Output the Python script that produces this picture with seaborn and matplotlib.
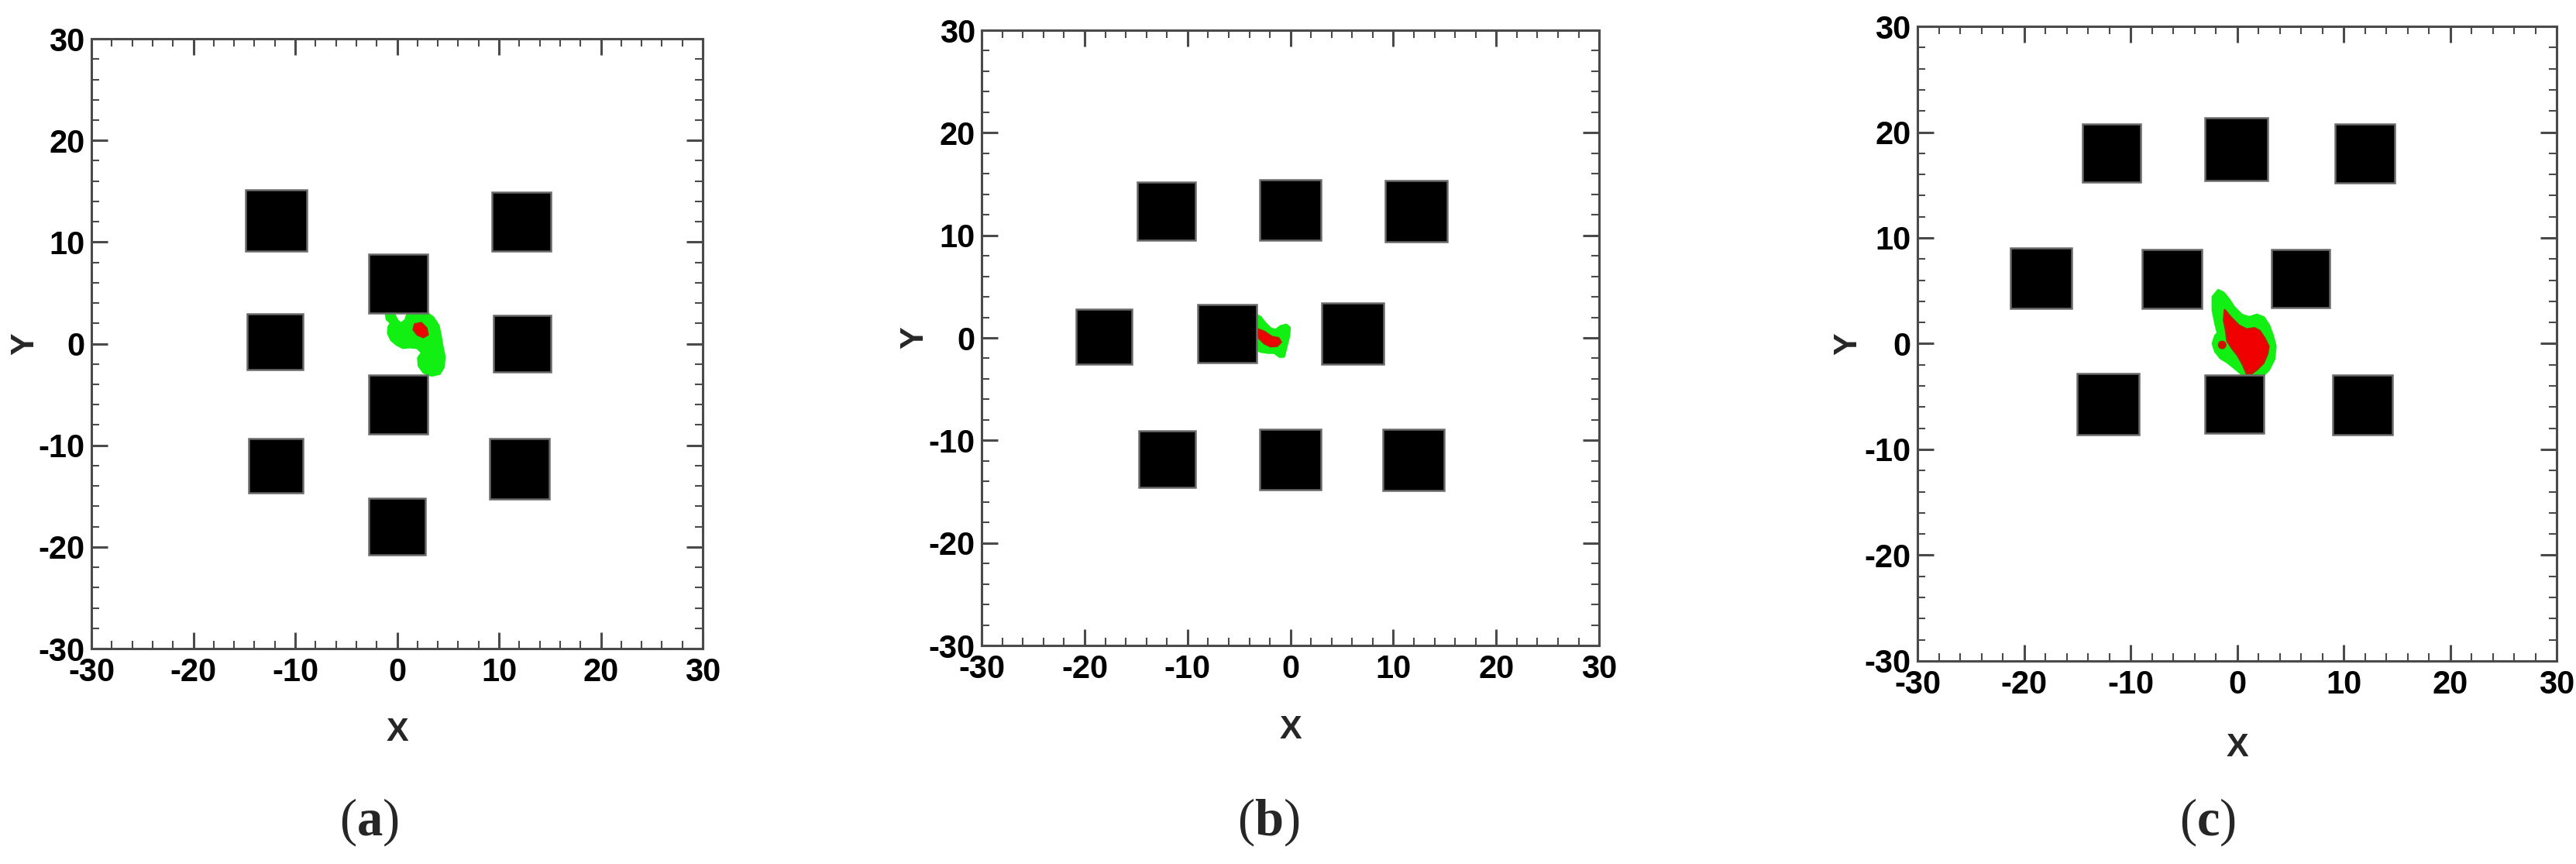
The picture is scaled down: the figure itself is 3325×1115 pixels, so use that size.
import numpy as np
import pandas as pd
import seaborn as sns
import matplotlib
matplotlib.use('Agg')
import matplotlib.pyplot as plt
from matplotlib.patches import Rectangle, Circle
from matplotlib.ticker import MultipleLocator

# obstacle blocks (centre x, centre y, side)
blocks_a_x = [-11.9, 12.2, 0.1, -12.0, 12.3, 0.1, -11.9, 12.0, 0.0]
blocks_a_y = [12.1, 12.0, 5.9, 0.2, 0.0, -6.0, -12.0, -12.3, -18.0]
blocks_a_s = [6.0, 5.8, 5.8, 5.5, 5.6, 5.8, 5.3, 5.9, 5.6]

blocks_b_x = [-12.05, 0.0, 12.2, -18.1, -6.15, 6.05, -11.95, 0.0, 11.95]
blocks_b_y = [12.35, 12.45, 12.35, 0.1, 0.4, 0.4, -11.85, -11.85, -11.9]
blocks_b_s = [5.7, 5.9, 6.0, 5.4, 5.7, 6.0, 5.5, 5.9, 5.9]

blocks_c_x = [-11.8, -0.05, 12.0, -18.4, -6.15, 5.95, -12.1, -0.25, 11.8]
blocks_c_y = [18.0, 18.4, 18.0, 6.2, 6.1, 6.15, -5.7, -5.7, -5.8]
blocks_c_s = [5.5, 5.9, 5.6, 5.7, 5.6, 5.5, 5.8, 5.5, 5.6]

# plume outlines: outer (green) and core (red)
green_a_x = [-1.05, -0.29, -0.03, 0.35, 0.85, 1.06, 2.88, 3.51, 4.02, 4.23, 4.40, 4.61, 4.53, 4.15,
             3.39, 2.63, 2.17, 2.12, 2.50, 1.99, 1.23, 0.60, -0.03, -0.54, -0.84, -0.79, -0.54, -0.97]
green_a_y = [2.93, 2.80, 2.29, 1.91, 2.29, 2.93, 3.00, 2.55, 1.78, 0.77, -0.25, -1.27, -2.28, -2.92,
             -3.09, -2.79, -2.16, -1.39, -0.88, -0.37, -0.30, -0.37, -0.05, 0.39, 1.02, 1.65, 2.04, 2.42]
red_a_x = [1.74, 2.37, 2.88, 3.01, 2.58, 1.99, 1.61]
red_a_y = [1.91, 2.04, 1.53, 0.89, 0.64, 0.89, 1.40]

green_b_x = [-3.43, -2.93, -2.55, -1.92, -1.42, -0.92, -0.42, -0.12, -0.17, -0.42, -0.67, -1.05,
             -1.55, -2.17, -2.93, -3.43, -3.56, -3.48]
green_b_y = [2.24, 1.99, 1.48, 0.85, 0.73, 1.10, 1.23, 0.98, 0.23, -0.79, -1.79, -1.79,
             -1.41, -1.41, -1.29, -0.91, -0.03, 1.23]
red_b_x = [-3.18, -2.55, -1.80, -1.17, -0.92, -1.30, -1.92, -2.55, -3.05, -3.30]
red_b_y = [0.85, 0.60, 0.10, -0.03, -0.41, -0.79, -0.83, -0.53, -0.03, 0.48]

green_c_x = [-1.77, -1.29, -0.80, -0.32, 0.41, 1.13, 1.86, 2.47, 2.95, 3.31, 3.56, 3.44, 2.95, 2.35,
             1.62, 0.89, 0.41, -0.32, -0.92, -1.53, -2.01, -2.25, -2.01, -1.77, -2.01, -2.25, -2.25]
green_c_y = [5.01, 4.77, 4.16, 3.42, 2.69, 2.45, 2.69, 2.45, 1.72, 0.74, -0.24, -1.46, -2.44, -3.05,
             -3.29, -3.17, -2.81, -2.19, -1.71, -1.34, -0.73, 0.01, 0.74, 0.98, 1.96, 3.18, 4.41]
red_c_x = [-1.16, -0.56, 0.17, 0.89, 1.62, 2.11, 2.59, 2.95, 2.83, 2.47, 1.86, 1.38, 0.89,
           0.53, 0.04, -0.44, -0.92, -1.04, -1.24]
red_c_y = [3.18, 2.45, 1.72, 1.35, 1.47, 1.22, 0.49, -0.24, -0.98, -1.83, -2.44, -2.81, -2.81,
           -1.95, -1.09, -0.48, 0.25, 1.22, 2.21]
red_dot_c = (-1.41, -0.12, 0.35)

panel_labels = ['a', 'b', 'c']

sns.set_theme(style='ticks')
plt.rcParams['font.family'] = ['Liberation Sans', 'DejaVu Sans']
plt.rcParams['axes.unicode_minus'] = False
plt.rcParams['mathtext.fontset'] = 'custom'
plt.rcParams['mathtext.rm'] = 'Liberation Serif'
plt.rcParams['mathtext.bf'] = 'Liberation Serif:bold'

fig = plt.figure(figsize=(33.25, 11.15), dpi=100)
fig.patch.set_facecolor('white')

positions = [[0.0355, 0.2493, 0.2373, 0.7058],
             [0.3811, 0.2529, 0.2397, 0.7121],
             [0.7444, 0.2350, 0.2481, 0.7345]]
label_x = [476 / 3325, 1637 / 3325, 2850 / 3325]

panels = [
    (blocks_a_x, blocks_a_y, blocks_a_s, green_a_x, green_a_y, red_a_x, red_a_y, None),
    (blocks_b_x, blocks_b_y, blocks_b_s, green_b_x, green_b_y, red_b_x, red_b_y, None),
    (blocks_c_x, blocks_c_y, blocks_c_s, green_c_x, green_c_y, red_c_x, red_c_y, red_dot_c),
]

green = '#12ef12'
red = '#f00000'
axc = '#4a4a4a'

for i, (bx, by, bs, gx, gy, rx, ry, dot) in enumerate(panels):
    ax = fig.add_axes(positions[i])
    ax.set_facecolor('white')

    ax.fill(gx, gy, color=green, ec=green, lw=3, joinstyle='round', zorder=2)
    ax.fill(rx, ry, color=red, ec='#c81800', lw=2, joinstyle='round', zorder=3)
    if dot is not None:
        ax.add_patch(Circle((dot[0], dot[1]), dot[2], color='#d01000', zorder=3))

    blocks = pd.DataFrame({'x': bx, 'y': by, 's': bs})
    for _, b in blocks.iterrows():
        ax.add_patch(Rectangle((b.x - b.s / 2, b.y - b.s / 2), b.s, b.s,
                               facecolor='black', edgecolor='#6a6a6a', lw=1.8, zorder=4))

    ax.set_xlim(-30, 30)
    ax.set_ylim(-30, 30)
    ax.xaxis.set_major_locator(MultipleLocator(10))
    ax.yaxis.set_major_locator(MultipleLocator(10))
    ax.xaxis.set_minor_locator(MultipleLocator(2))
    ax.yaxis.set_minor_locator(MultipleLocator(2))
    ax.tick_params(which='both', direction='in', top=True, right=True, colors=axc,
                   labelcolor='black', labelsize=30)
    ax.tick_params(which='major', length=15, width=2.2)
    ax.tick_params(which='minor', length=7.5, width=1.5)
    ax.tick_params(axis='x', pad=8)
    ax.tick_params(axis='y', pad=6)
    for lab in ax.get_xticklabels() + ax.get_yticklabels():
        lab.set_fontweight('bold')
    for sp in ax.spines.values():
        sp.set_color(axc)
        sp.set_linewidth(2.2)
        sp.set_zorder(5)

    ax.set_xlabel('X', fontsize=31, fontweight='bold', va='center')
    ax.set_ylabel('Y', fontsize=31, fontweight='bold', va='center')
    ax.xaxis.set_label_coords(0.5, -0.137)
    ax.yaxis.set_label_coords(-0.109, 0.5)

    fig.text(label_x[i], 0.048, r'($\mathbf{' + panel_labels[i] + r'}$)',
             fontsize=48, ha='center', va='center', family='Liberation Serif')

fig.savefig('out.png', dpi=100, facecolor='white')
